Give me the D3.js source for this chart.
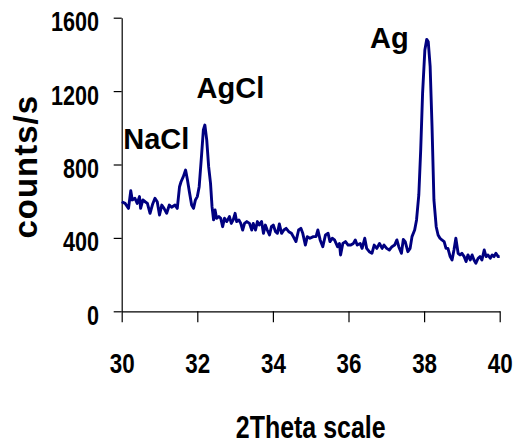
<!DOCTYPE html>
<html>
<head>
<meta charset="utf-8">
<script src="https://cdn.jsdelivr.net/npm/d3@7"></script>
<style>
  html, body { margin: 0; padding: 0; background: #fff; }
  text { font-family: "Liberation Sans", Arial, sans-serif; font-weight: bold; fill: #000; }
</style>
</head>
<body>
<div id="chart"></div>
<script>
// XRD pattern, 2theta 30-40
const theta = [
  30.00, 30.09, 30.18, 30.24, 30.28, 30.35, 30.41, 30.47, 30.50, 30.56,
  30.62, 30.68, 30.75, 30.82, 30.88, 30.94, 31.00, 31.06, 31.12, 31.19,
  31.26, 31.32, 31.41, 31.47, 31.53, 31.57, 31.63, 31.69, 31.74, 31.79,
  31.85, 31.90, 31.95, 32.00, 32.05, 32.11, 32.16, 32.20, 32.25, 32.30,
  32.35, 32.39, 32.43, 32.47, 32.51, 32.57, 32.62, 32.67, 32.72, 32.78,
  32.85, 32.90, 32.95, 33.00, 33.04, 33.10, 33.15, 33.20, 33.25, 33.31,
  33.38, 33.44, 33.48, 33.54, 33.59, 33.64, 33.70, 33.75, 33.80, 33.85,
  33.91, 33.96, 34.01, 34.07, 34.12, 34.17, 34.23, 34.29, 34.35, 34.42,
  34.49, 34.54, 34.61, 34.68, 34.74, 34.79, 34.86, 34.91, 34.98, 35.07,
  35.14, 35.19, 35.25, 35.32, 35.39, 35.46, 35.51, 35.57, 35.63, 35.71,
  35.76, 35.79, 35.85, 35.92, 35.99, 36.06, 36.13, 36.18, 36.23, 36.31,
  36.36, 36.43, 36.48, 36.55, 36.62, 36.68, 36.75, 36.82, 36.89, 36.94,
  37.01, 37.08, 37.15, 37.22, 37.28, 37.33, 37.40, 37.45, 37.50, 37.57,
  37.63, 37.68, 37.75, 37.80, 37.86, 37.91, 37.96, 38.02, 38.07, 38.11,
  38.16, 38.21, 38.26, 38.32, 38.37, 38.42, 38.47, 38.53, 38.58, 38.63,
  38.69, 38.74, 38.79, 38.84, 38.90, 38.95, 39.00, 39.06, 39.11, 39.16,
  39.22, 39.27, 39.32, 39.37, 39.43, 39.48, 39.53, 39.59, 39.64, 39.69,
  39.75, 39.80, 39.85, 39.90, 39.96, 40.00
];
const counts = [
  597, 588, 561, 657, 607, 616, 588, 625, 561, 607,
  597, 588, 534, 585, 616, 597, 525, 579, 561, 534,
  579, 567, 579, 561, 679, 706, 734, 770, 716, 652,
  579, 561, 607, 625, 679, 843, 988, 1015, 933, 788,
  697, 570, 498, 552, 507, 516, 507, 461, 507, 489,
  516, 479, 498, 534, 489, 498, 479, 443, 479, 489,
  479, 443, 479, 443, 489, 470, 489, 425, 470, 443,
  416, 461, 470, 434, 425, 476, 425, 443, 452, 434,
  425, 407, 380, 443, 452, 425, 361, 407, 398, 407,
  407, 443, 389, 352, 416, 425, 380, 398, 389, 352,
  370, 307, 370, 380, 361, 361, 370, 389, 361, 370,
  343, 398, 343, 325, 316, 361, 343, 370, 343, 361,
  343, 334, 352, 361, 389, 352, 316, 392, 380, 325,
  343, 407, 443, 498, 634, 879, 1188, 1424, 1482, 1469,
  1333, 1006, 607, 461, 416, 398, 389, 380, 343, 343,
  298, 280, 334, 398, 316, 307, 316, 298, 271, 307,
  280, 307, 280, 262, 289, 298, 280, 334, 298, 307,
  289, 307, 298, 316, 298, 298
];

const xTicks = [30, 32, 34, 36, 38, 40];
const yTicks = [0, 400, 800, 1200, 1600];

// peak labels: text, 2theta, counts at the label's left baseline
const peakNames = ["NaCl", "AgCl", "Ag"];
const peakTheta = [30.04, 31.98, 36.57];
const peakCounts = [883, 1161, 1433];

const width = 516, height = 444;
const plot = { left: 121.7, right: 499.7, top: 17.7, bottom: 311.3 };

const svg = d3.select('#chart').append('svg')
  .attr('width', width)
  .attr('height', height);

const x = d3.scaleLinear().domain([30, 40]).range([plot.left, plot.right]);
const y = d3.scaleLinear().domain([0, 1600]).range([plot.bottom, plot.top]);

const squeeze = 0.8; // tick labels are drawn narrow

// y axis
const yAxis = svg.append('g')
  .attr('transform', `translate(${plot.left},0)`)
  .call(d3.axisLeft(y).tickValues(yTicks).tickSize(8).tickSizeOuter(0).tickFormat(d3.format('d')));
yAxis.select('.domain').attr('stroke', '#000').attr('stroke-width', 1.2);
yAxis.selectAll('.tick line').attr('stroke', '#000').attr('stroke-width', 1.2);
yAxis.selectAll('.tick text')
  .attr('font-size', 27)
  .attr('font-family', '"Liberation Sans", Arial, sans-serif')
  .attr('font-weight', 'bold')
  .attr('fill', '#000')
  .attr('x', -22.7 / squeeze)
  .attr('dy', null)
  .attr('y', 13)
  .attr('transform', `scale(${squeeze},1)`);

// x axis
const xAxis = svg.append('g')
  .attr('transform', `translate(0,${plot.bottom})`)
  .call(d3.axisBottom(x).tickValues(xTicks).tickSize(11).tickSizeOuter(0).tickFormat(d3.format('d')));
xAxis.select('.domain').attr('stroke', '#000').attr('stroke-width', 1.2);
xAxis.selectAll('.tick line').attr('stroke', '#000').attr('stroke-width', 1.2);
xAxis.selectAll('.tick text')
  .attr('font-size', 28)
  .attr('font-family', '"Liberation Sans", Arial, sans-serif')
  .attr('font-weight', 'bold')
  .attr('fill', '#000')
  .attr('x', 0)
  .attr('dy', null)
  .attr('y', 61.4)
  .attr('transform', `scale(${squeeze},1)`);

// axis titles
svg.append('text')
  .attr('transform', `translate(${(plot.left + plot.right) / 2},438) scale(0.78,1)`)
  .attr('text-anchor', 'middle')
  .attr('font-size', 32)
  .text('2Theta scale');

svg.append('text')
  .attr('transform', 'translate(37.3,166.7) rotate(-90)')
  .attr('text-anchor', 'middle')
  .attr('font-size', 33)
  .attr('letter-spacing', 1)
  .text('counts/s');

// the pattern
const pts = theta.map((t, i) => [t, counts[i]]);
svg.append('path')
  .datum(pts)
  .attr('fill', 'none')
  .attr('stroke', '#000080')
  .attr('stroke-width', 2.9)
  .attr('stroke-linejoin', 'round')
  .attr('d', d3.line().x(d => x(d[0])).y(d => y(d[1])));

// peak labels
svg.selectAll('text.peak')
  .data(peakNames)
  .join('text')
  .attr('class', 'peak')
  .attr('x', (d, i) => x(peakTheta[i]))
  .attr('y', (d, i) => y(peakCounts[i]))
  .attr('font-size', 29)
  .text(d => d);
</script>
</body>
</html>
